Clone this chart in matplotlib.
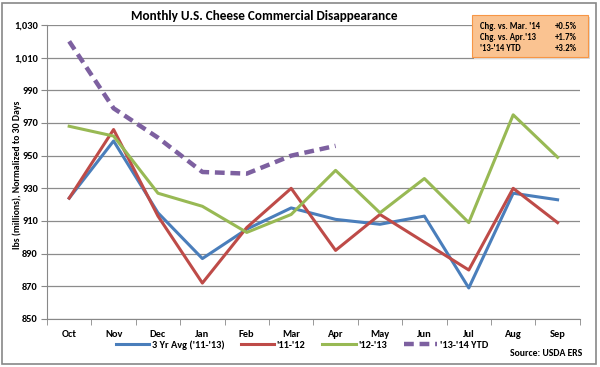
import matplotlib
matplotlib.use("Agg")
import matplotlib.pyplot as plt
from matplotlib.patches import FancyBboxPatch, Rectangle

months = ['Oct', 'Nov', 'Dec', 'Jan', 'Feb', 'Mar', 'Apr', 'May', 'Jun', 'Jul', 'Aug', 'Sep']
avg_3yr = [924, 959, 915, 887, 905, 918, 911, 908, 913, 869, 927, 923]
y_11_12 = [924, 966, 913, 872, 906, 930, 892, 914, 897, 880, 930, 909]
y_12_13 = [968, 962, 927, 919, 903, 914, 941, 915, 936, 909, 975, 949]
y_13_14 = [1020, 979, 961, 940, 939, 950, 956]
series_labels = ["3 Yr Avg ('11-'13)", "'11-'12", "'12-'13", "'13-'14 YTD"]
box_rows = [("Chg. vs. Mar. '14", "+0.5%"), ("Chg. vs. Apr.'13", "+1.7%"), ("'13-'14 YTD", "+3.2%")]

plt.rcParams['font.family'] = ['Carlito', 'DejaVu Sans']

fig = plt.figure(figsize=(6.0, 3.67), dpi=100)
ax = fig.add_axes([0.0783, 0.1308, 0.888, 0.8011])

x = list(range(len(months)))
ax.plot(x, avg_3yr, color='#4A7EBB', lw=2.2, label=series_labels[0])
ax.plot(x, y_11_12, color='#BE4B48', lw=2.2, label=series_labels[1])
ax.plot(x, y_12_13, color='#98B954', lw=2.2, label=series_labels[2])
ax.plot(x[:len(y_13_14)], y_13_14, color='#7D60A0', lw=3.2, ls=(0, (2.2, 1.3)),
        label=series_labels[3])

ax.set_ylim(850, 1030)
ax.set_yticks(range(850, 1031, 20))
ax.set_yticklabels([f"{v:,}" for v in range(850, 1031, 20)], fontsize=7.5, fontweight='bold')
ax.set_xlim(-0.5, 11.5)
ax.set_xticks(x)
ax.set_xticklabels(months, fontsize=7.5, fontweight='bold')
ax.set_xticks([i - 0.5 for i in range(13)], minor=True)
ax.tick_params(axis='x', which='major', length=0, pad=8)
ax.tick_params(axis='x', which='minor', length=4, color='#888888')
ax.tick_params(axis='y', length=4, color='#888888', pad=2.5)
ax.grid(axis='y', color='#8C8C8C', lw=0.9)
ax.set_axisbelow(True)
for s in ['top', 'right']:
    ax.spines[s].set_visible(False)
for s in ['left', 'bottom']:
    ax.spines[s].set_color('#888888')

fig.text(0.029, 0.523, 'lbs (millions), Normalized to 30 Days', rotation=90, ha='center', va='center',
         fontsize=7, fontweight='bold')

fig.text(0.44, 0.957, 'Monthly U.S. Cheese Commercial Disappearance', ha='center', va='center',
         fontsize=9.5, fontweight='bold')

leg = fig.legend(loc='center', bbox_to_anchor=(0.503, 0.06), ncol=4, frameon=False,
                 handlelength=3.2, handletextpad=0.25, columnspacing=1.6,
                 prop={'weight': 'bold', 'size': 7.5})
fig.text(0.97, 0.038, 'Source: USDA ERS', ha='right', va='center', fontsize=7, fontweight='bold')

# orange info box with a soft shadow
shadow = FancyBboxPatch((0.790, 0.839), 0.193, 0.114, boxstyle='square,pad=0',
                        transform=fig.transFigure, facecolor='#D9D9D9', edgecolor='none')
fig.patches.append(shadow)
box = FancyBboxPatch((0.787, 0.845), 0.193, 0.114, boxstyle='square,pad=0',
                     transform=fig.transFigure, facecolor='#FAC391', edgecolor='#F79646', lw=0.8)
fig.patches.append(box)
for i, (lab, val) in enumerate(box_rows):
    yy = 0.929 - i * 0.03
    fig.text(0.80, yy, lab, fontsize=6.3, fontweight='bold', va='center')
    fig.text(0.962, yy, val, fontsize=6.3, fontweight='bold', va='center', ha='right')

# outer border
fig.patches.append(Rectangle((0.004, 0.008), 0.99, 0.985, transform=fig.transFigure,
                             fill=False, edgecolor='#888888', lw=1.2))

fig.savefig('out.png', dpi=100)
